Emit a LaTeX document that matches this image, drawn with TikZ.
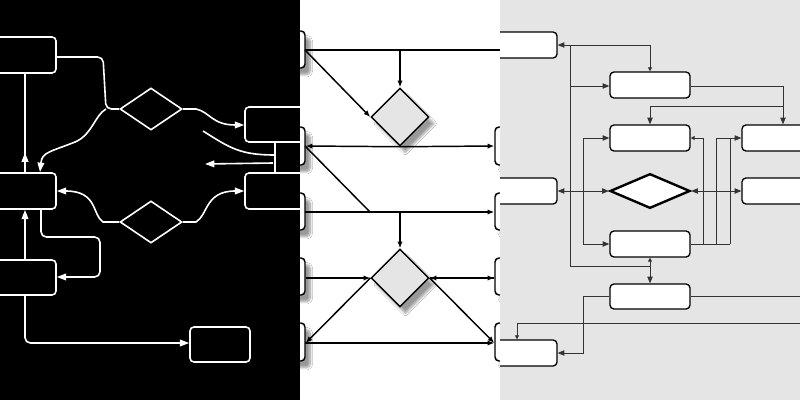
\documentclass[tikz,border=0pt]{standalone}
\usetikzlibrary{shapes.geometric,arrows.meta,fit,shadows.blur,decorations.markings}
\begin{document}
\begin{tikzpicture}[x=0.75pt,y=-0.75pt,
  wl/.style={draw=white,line width=1.2pt,rounded corners=4pt},
  wbox/.style={wl,fill=black,inner sep=0pt,rounded corners=3pt},
  wdia/.style={diamond,draw=white,line width=1.2pt,minimum width=46.5pt,minimum height=31.5pt,inner sep=0pt},
  wa/.style={-{Triangle[length=7pt,width=5pt]}},
  wmark/.style={postaction={decorate,decoration={markings,mark=at position #1 with {\arrow[white]{Triangle[length=7pt,width=5pt]}}}}},
  bl/.style={draw=black,line width=1.1pt},
  bbox/.style={bl,fill=white,inner sep=0pt,rounded corners=3pt,blur shadow={shadow xshift=4pt,shadow yshift=-5pt,shadow blur steps=8}},
  bdia/.style={diamond,bl,fill=black!10,minimum width=43.5pt,minimum height=43.5pt,inner sep=0pt,blur shadow={shadow xshift=4pt,shadow yshift=-5pt,shadow blur steps=8}},
  ba/.style={-{Latex[length=5pt,width=4pt]}},
  gl/.style={draw=black!80,line width=0.6pt},
  gbox/.style={draw=black,line width=1pt,fill=white,inner sep=0pt,rounded corners=3pt},
  ga/.style={-{Triangle[length=5pt,width=4pt]}},
  gsa/.style={-{Triangle[length=3pt,width=3pt]}}]
\useasboundingbox (0,0) rectangle (800,400);
% ---------- panel 1
\begin{scope}
\clip (0,0) rectangle (300,400);
\fill[black] (0,0) rectangle (300,400);
\node[wbox,fit={(-10,37)(56,73)}] (A) {};
\node[wbox,fit={(-10,173)(56,209)}] (B) {};
\node[wbox,fit={(-10,260)(56,295)}] (C) {};
\node[wbox,fit={(190,327)(250,362)}] (D) {};
\node[wbox,fit={(245,107)(310,142)}] (E) {};
\node[wbox,fit={(245,173)(310,209)}] (F) {};
\node[wdia] (d1) at (151,109) {};
\node[wdia] (d2) at (151,222) {};
\coordinate (j1) at (106,109);
\draw[wl] (A.east |- 0,57) -- (103,57) -- (j1) -- (d1.west);
\draw[wl,wa,rounded corners=0] (j1) .. controls (95,115) and (92,135) .. (75,142) .. controls (50,152) and (42,152) .. (40,172);
\draw[wl,wa,rounded corners=0] (d1.east) -- (196,109) .. controls (210,112) and (212,125) .. (E.west |- 0,125);
\draw[wl,rounded corners=0] (203,131) .. controls (230,148) and (240,155) .. (275,155);
\draw[wl] (275,142) -- (275,173);
\draw[wl,wa] (273,163) -- (205,164);
\draw[wl,wmark=0.2] (B.north -| 25,0) -- (A.south -| 25,0);
\draw[wl,wa,rounded corners=0] (d2.west) -- (103,222) .. controls (92,215) and (98,191) .. (B.east |- 0,191);
\draw[wl,wa,rounded corners=0] (d2.east) -- (196,222) .. controls (208,215) and (205,191) .. (F.west |- 0,191);
\draw[wl,wa] (B.south -| 41,0) -- (41,237) -- (100,237) -- (100,277) -- (C.east |- 0,277);
\draw[wl,wa] (C.north -| 25,0) -- (B.south -| 25,0);
\draw[wl,wa] (C.south -| 25,0) -- (25,343) -- (D.west |- 0,343);
\end{scope}
% ---------- panel 2
\begin{scope}
\clip (300,0) rectangle (500,400);
\fill[white] (300,0) rectangle (500,400);
\node[bbox,fit={(280,31)(305,68)}] (L1) {};
\node[bbox,fit={(280,127)(305,165)}] (L2) {};
\node[bbox,fit={(280,193)(305,230)}] (L3) {};
\node[bbox,fit={(280,258)(305,295)}] (L4) {};
\node[bbox,fit={(280,323)(305,361)}] (L5) {};
\node[bbox,fit={(495,127)(520,165)}] (R2) {};
\node[bbox,fit={(495,193)(520,230)}] (R3) {};
\node[bbox,fit={(495,258)(520,295)}] (R4) {};
\node[bbox,fit={(495,323)(520,361)}] (R5) {};
\node[bdia] (e1) at (400,117) {};
\node[bdia] (e2) at (400,278) {};
\coordinate (t1) at (400,50);
\coordinate (t2) at (400,212);
\coordinate (t3) at (370,212);
\draw[bl] (305,50) -- (500,50);
\draw[bl,ba] (t1) -- (e1.north);
\draw[bl,ba] (305,50) -- (e1.west);
\draw[bl,ba] (e1.south) -- (L2.east |- 0,146);
\draw[bl,ba] (e1.south) -- (R2.west |- 0,146);
\draw[bl] (305,146) -- (t3);
\draw[bl,ba] (305,212) -- (R3.west |- 0,212);
\draw[bl,ba] (t2) -- (e2.north);
\draw[bl,ba] (L4.east |- 0,278) -- (e2.west);
\draw[bl,ba] (R4.west |- 0,278) -- (e2.east);
\draw[bl,ba] (e2.east) -- (R4.west |- 0,278);
\draw[bl,ba] (e2.west) -- (L5.east |- 0,343);
\draw[bl,ba] (e2.east) -- (R5.west |- 0,343);
\draw[bl,ba] (305,343) -- (R5.west |- 0,343);
\end{scope}
% ---------- panel 3
\begin{scope}
\clip (500,0) rectangle (800,400);
\fill[black!10] (500,0) rectangle (800,400);
\node[gbox,fit={(490,32)(557,58)}] (G1) {};
\node[gbox,fit={(610,72)(690,98)}] (G2) {};
\node[gbox,fit={(610,125)(690,151)}] (G3) {};
\node[gbox,fit={(742,125)(810,151)}] (G4) {};
\node[gbox,fit={(490,178)(557,204)}] (G5) {};
\node[gbox,fit={(742,178)(810,204)}] (G6) {};
\node[gbox,fit={(610,231)(690,257)}] (G7) {};
\node[gbox,fit={(610,284)(690,309)}] (G8) {};
\node[gbox,fit={(490,340)(557,366)}] (G9) {};
\node[diamond,draw=black,line width=1.8pt,fill=white,minimum width=60pt,minimum height=26pt,inner sep=0pt] (gd) at (650,191) {};
\draw[gl,ga] (570,45) -- (G1.east |- 0,45);
\draw[gl,gsa] (570,45) -- (650,45) -- (G2.north);
\draw[gl,ga] (570,45) -- (570,86) -- (G2.west |- 0,86);
\draw[gl] (570,86) -- (570,266) -- (650,266);
\draw[gl,gsa] (650,269) -- (G7.south);
\draw[gl,ga] (650,266) -- (G8.north);
\draw[gl,ga] (G2.east |- 0,86) -- (783,86) -- (G4.north -| 783,0);
\draw[gl,ga] (783,106) -- (650,106) -- (G3.north);
\draw[gl,ga] (583,191) -- (583,138) -- (G3.west |- 0,138);
\draw[gl,ga] (583,191) -- (583,244) -- (G7.west |- 0,244);
\draw[gl,ga] (583,191) -- (G5.east |- 0,191);
\draw[gl,ga] (583,191) -- (gd.west);
\draw[gl,ga] (716,191) -- (gd.east);
\draw[gl,ga] (716,191) -- (G6.west |- 0,191);
\draw[gl] (703,138) -- (703,244);
\draw[gl] (716,138) -- (716,244);
\draw[gl] (730,138) -- (730,244);
\draw[gl] (G7.east |- 0,244) -- (730,244);
\draw[gl,gsa] (703,138) -- (G3.east |- 0,138);
\draw[gl,ga] (716,138) -- (G4.west |- 0,138);
\draw[gl] (G8.east |- 0,296) -- (800,296);
\draw[gl,ga] (G8.west |- 0,296) -- (583,296) -- (583,353) -- (G9.east |- 0,353);
\draw[gl,gsa] (800,323) -- (517,323) -- (G9.north -| 517,0);
\end{scope}
\end{tikzpicture}
\end{document}
